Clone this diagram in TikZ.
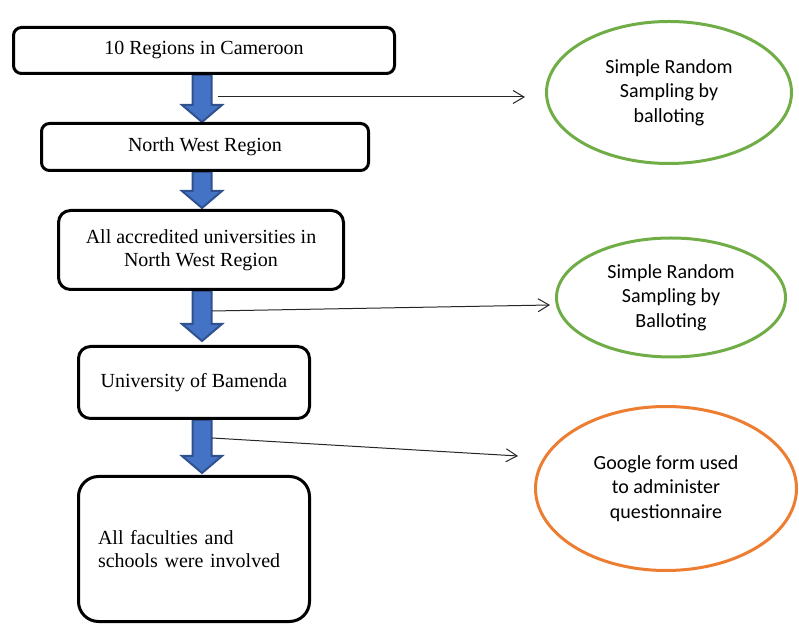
\documentclass[tikz,border=0pt]{standalone}
\usepackage{fontspec}
\setmainfont{Liberation Serif}
\newfontfamily\carlito{Carlito}
\usetikzlibrary{shapes.geometric,arrows.meta,calc}
\definecolor{blk}{HTML}{4472C4}
\definecolor{blkedge}{HTML}{2F528F}
\definecolor{grn}{HTML}{70AD47}
\definecolor{org}{HTML}{ED7D31}
\pgfdeclarelayer{background}
\pgfsetlayers{background,main}
\begin{document}
\begin{tikzpicture}[x=1pt,y=1pt,
  box/.style={draw=black, line width=3pt, rounded corners=#1, fill=white,
    inner sep=0pt, font=\fontsize{20}{23}\selectfont, align=center},
  box/.default=8pt,
  oval/.style={ellipse, draw=#1, line width=3pt, inner sep=0pt,
    font=\carlito\fontsize{20}{24.5}\selectfont, align=center},
  blkarrow/.style={fill=blk, draw=blkedge, line width=2pt, line join=miter},
  thin/.style={draw=black!85, line width=1pt, -{Straight Barb[length=11pt,width=13pt]}}
]
\useasboundingbox (0,0) rectangle (799,626);

% boxes
\node[box] (b1) at (204,575.5) [minimum width=381, minimum height=46] {10 Regions in Cameroon};
\node[box] (b2) at (205,479) [minimum width=327, minimum height=47] {North West Region};
\node[box=12pt] (b3) at (201,376) [minimum width=285, minimum height=79] {All accredited universities in\\North West Region};
\node[box=12pt] (b4) at (194,243.5) [minimum width=231, minimum height=72] {University of Bamenda};
\node[box=20pt, align=left, text width=192, inner xsep=19.5] (b5) at (194,77) [minimum height=145] {All faculties and\\schools were involved};

% ovals
\node[oval=grn, minimum width=245, minimum height=142] (e1) at (669,533.5) {Simple Random\\Sampling by\\balloting};
\node[oval=grn, minimum width=229, minimum height=119] (e2) at (671,328.5) {Simple Random\\Sampling by\\Balloting};
\node[oval=org, minimum width=261, minimum height=164] (e3) at (666,137.5) {Google form used\\to administer\\questionnaire};

% block arrows
\coordinate (ax) at (202,0);
\coordinate (s1) at (b1.south -| ax);
\coordinate (t1) at (b2.north -| ax);
\coordinate (s2) at (b2.south -| ax);
\coordinate (t2) at ($(b3.north -| ax)+(0,1)$);
\coordinate (s3) at (b3.south -| ax);
\coordinate (t3) at ($(b4.north -| ax)+(0,4)$);
\coordinate (s4) at (b4.south -| ax);
\coordinate (t4) at ($(b5.north -| ax)+(0,2)$);
\begin{pgfonlayer}{background}
\foreach \s/\t in {s1/t1,s2/t2,s3/t3,s4/t4}{
  \draw[blkarrow] ($(\s)+(-9.5,0)$) -- ($(\t)+(-9.5,17)$) -- ($(\t)+(-20,17)$) -- (\t)
    -- ($(\t)+(20,17)$) -- ($(\t)+(9.5,17)$) -- ($(\s)+(9.5,0)$) -- cycle;
}
\end{pgfonlayer}

% thin arrows
\coordinate (a1) at (218,529);
\coordinate (a1e) at (525,529);
\coordinate (a2) at (212,315);
\coordinate (a2e) at (550,321);
\coordinate (a3) at (212,188);
\coordinate (a3e) at (518,170);
\draw[thin] (a1) -- (a1e);
\draw[thin] (a2) -- (a2e);
\draw[thin] (a3) -- (a3e);
\end{tikzpicture}
\end{document}
